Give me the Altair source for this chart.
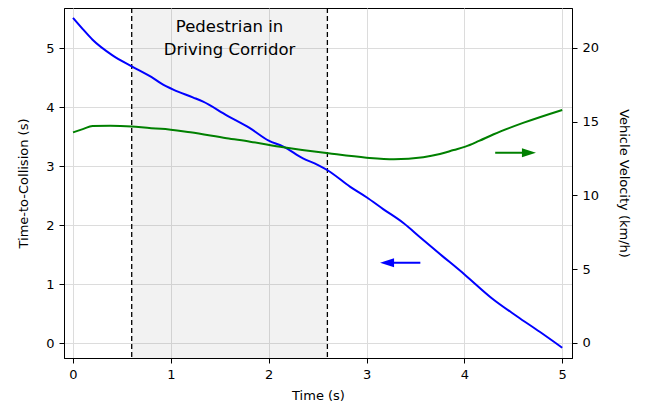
import altair as alt
import pandas as pd

# ---- data ----
time_ttc = [0, 0.1, 0.2, 0.4, 0.6, 0.8, 0.9, 1.03, 1.23, 1.33, 1.57, 1.8, 2.0, 2.15,
            2.35, 2.5, 2.61, 2.83, 3.0, 3.17, 3.38, 3.55, 3.75, 4.01, 4.28, 4.54, 4.77, 5.0]
ttc = [5.51, 5.32, 5.14, 4.88, 4.69, 4.51, 4.40, 4.29, 4.16, 4.09, 3.86, 3.65, 3.43, 3.33,
       3.13, 3.02, 2.92, 2.65, 2.47, 2.27, 2.03, 1.79, 1.51, 1.15, 0.76, 0.45, 0.19, -0.08]

time_vel = [0, 0.1, 0.2, 0.38, 0.6, 0.8, 0.9, 1.2, 1.57, 1.81, 2.15, 2.61, 3.0, 3.28,
            3.58, 3.75, 3.89, 4.01, 4.15, 4.3, 4.6, 5.0]
velocity = [14.28, 14.5, 14.71, 14.73, 14.68, 14.56, 14.53, 14.28, 13.88, 13.65, 13.27,
            12.86, 12.56, 12.45, 12.59, 12.81, 13.08, 13.31, 13.7, 14.15, 14.92, 15.8]

x_ticks = [0, 1, 2, 3, 4, 5]
ttc_ticks = [0, 1, 2, 3, 4, 5]
vel_ticks = [0, 5, 10, 15, 20]

corridor_start = [0.6]
corridor_end = [2.6]
annotation_text = ["Pedestrian in\nDriving Corridor"]
annotation_x = [1.6]
annotation_y = [5.27]

ttc_arrow_x = [3.55, 3.21]
ttc_arrow_y = [1.36, 1.36]
vel_arrow_x = [4.315, 4.66]
vel_arrow_y = [12.9, 12.9]

FONT = "DejaVu Sans"

df_ttc = pd.DataFrame({"t": time_ttc, "ttc": ttc})
df_vel = pd.DataFrame({"t": time_vel, "vel": velocity})
df_span = pd.DataFrame({"start": corridor_start, "end": corridor_end})
df_rules = pd.DataFrame({"t": corridor_start + corridor_end})
df_text = pd.DataFrame({"t": annotation_x, "ttc": annotation_y, "label": annotation_text})
df_ttc_arrow = pd.DataFrame({"t": ttc_arrow_x, "ttc": ttc_arrow_y})
df_ttc_head = df_ttc_arrow.iloc[[1]]
df_vel_arrow = pd.DataFrame({"t": vel_arrow_x, "vel": vel_arrow_y})
df_vel_head = df_vel_arrow.iloc[[1]]

x_scale = alt.Scale(domain=[-0.092, 5.1], nice=False, zero=False)
yl_scale = alt.Scale(domain=[-0.254, 5.678], nice=False, zero=False)
yr_scale = alt.Scale(domain=[-1.017, 22.71], nice=False, zero=False)

x_axis = alt.Axis(title="Time (s)", values=x_ticks, grid=True, labelPadding=5, titlePadding=8,
                  format="d")
yl_axis = alt.Axis(title="Time-to-Collision (s)", values=ttc_ticks, grid=True, orient="left",
                   labelPadding=5, titlePadding=15, format="d")
yr_axis = alt.Axis(title="Vehicle Velocity (km/h)", values=vel_ticks, grid=False, orient="right",
                   labelPadding=5, titlePadding=18, format="d")

X = alt.X("t:Q", scale=x_scale, axis=x_axis)
YL = alt.Y("ttc:Q", scale=yl_scale, axis=yl_axis)
YR = alt.Y("vel:Q", scale=yr_scale, axis=yr_axis)

span = alt.Chart(df_span).mark_rect(color="gray", opacity=0.1).encode(
    x=alt.X("start:Q", scale=x_scale, axis=x_axis), x2="end:Q")
rules = alt.Chart(df_rules).mark_rule(color="black", strokeWidth=1.3, strokeDash=[5, 3]).encode(x=X)
ttc_line = alt.Chart(df_ttc).mark_line(color="#0000ff", strokeWidth=2, interpolate="monotone").encode(x=X, y=YL)
ttc_arrow = alt.Chart(df_ttc_arrow).mark_line(color="#0000ff", strokeWidth=2).encode(x=X, y=YL)
ttc_head = alt.Chart(df_ttc_head).mark_point(
    shape="M -1 0 L 1 -0.64 L 1 0.64 Z", filled=True, size=196, color="#0000ff", opacity=1
).encode(x=X, y=YL)
text = alt.Chart(df_text).mark_text(
    font=FONT, fontSize=16.5, lineBreak="\n", lineHeight=23, baseline="alphabetic",
    align="center", color="black"
).encode(x=X, y=YL, text="label:N")

left = alt.layer(span, rules, ttc_line, ttc_arrow, ttc_head, text)

vel_line = alt.Chart(df_vel).mark_line(color="#008000", strokeWidth=2, interpolate="monotone").encode(x=X, y=YR)
vel_arrow = alt.Chart(df_vel_arrow).mark_line(color="#008000", strokeWidth=2).encode(x=X, y=YR)
vel_head = alt.Chart(df_vel_head).mark_point(
    shape="M 1 0 L -1 -0.64 L -1 0.64 Z", filled=True, size=196, color="#008000", opacity=1
).encode(x=X, y=YR)

right = alt.layer(vel_line, vel_arrow, vel_head)

chart = alt.layer(left, right).resolve_scale(y="independent").properties(
    width=508, height=350,
    autosize=alt.AutoSizeParams(type="none"),
    padding={"left": 56, "top": 0, "right": 70, "bottom": 43},
).configure_view(
    stroke="black", strokeWidth=1
).configure_axis(
    labelFont=FONT, titleFont=FONT, labelFontSize=13, titleFontSize=13,
    titleFontWeight="normal", labelColor="black", titleColor="black",
    domainColor="black", tickColor="black", tickSize=5, tickWidth=1,
    gridColor="#dcdcdc", gridWidth=1
)

chart.save("out.html", embed_options={"renderer": "svg", "actions": False})
